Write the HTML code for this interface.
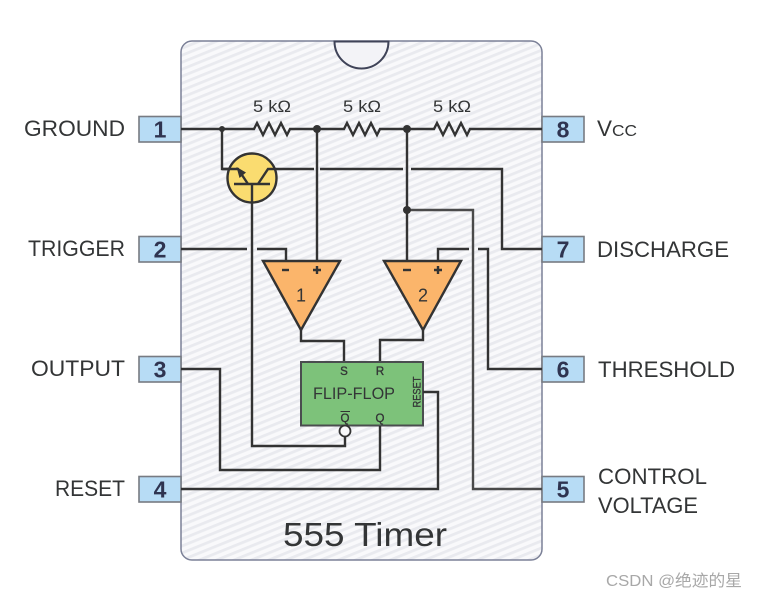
<!DOCTYPE html>
<html>
<head>
<meta charset="utf-8">
<style>
html,body{margin:0;padding:0;background:#fff;width:758px;height:598px;overflow:hidden}
svg{display:block}
text{font-family:"Liberation Sans","Noto Sans CJK SC",sans-serif;fill:#333536}
.lb{font-size:22px}
.pn{font-size:23px;font-weight:bold;fill:#2f3450;text-anchor:middle}
.w{fill:none;stroke:#333;stroke-width:2.4;stroke-linejoin:miter}
.pin{fill:#b7dcf5;stroke:#777b82;stroke-width:1.6}
.ff{font-size:11.5px;text-anchor:middle;stroke:#333536;stroke-width:.35px}
</style>
</head>
<body>
<svg width="758" height="598" viewBox="0 0 758 598" xmlns="http://www.w3.org/2000/svg">
<defs>
<pattern id="h" width="9" height="6.500" patternUnits="userSpaceOnUse" patternTransform="rotate(-22)">
<rect width="9" height="6.500" fill="#f9f9fb"/>
<rect y="1" width="9" height="2.800" fill="#e9eaef"/>
</pattern>
</defs>
<rect x="181" y="41" width="361" height="519" rx="11" ry="11" fill="url(#h)" stroke="#7b8097" stroke-width="1.500"/>
<path d="M334.500 41.500 A27 27 0 0 0 388.500 41.500 Z" fill="#f3f3f7" stroke="#3f4358" stroke-width="2"/>

<g>
<rect class="pin" x="139" y="116.500" width="42" height="25.500"/>
<rect class="pin" x="139" y="236.500" width="42" height="25.500"/>
<rect class="pin" x="139" y="356.500" width="42" height="25.500"/>
<rect class="pin" x="139" y="476.500" width="42" height="25.500"/>
<rect class="pin" x="542" y="116.500" width="42" height="25.500"/>
<rect class="pin" x="542" y="236.500" width="42" height="25.500"/>
<rect class="pin" x="542" y="356.500" width="42" height="25.500"/>
<rect class="pin" x="542" y="476.500" width="42" height="25.500"/>
</g>
<text class="pn" x="160" y="137.500">1</text>
<text class="pn" x="160" y="257.500">2</text>
<text class="pn" x="160" y="377.500">3</text>
<text class="pn" x="160" y="497.500">4</text>
<text class="pn" x="563" y="137.500">8</text>
<text class="pn" x="563" y="257.500">7</text>
<text class="pn" x="563" y="377.500">6</text>
<text class="pn" x="563" y="497.500">5</text>

<text class="lb" x="24" y="136" textLength="101" lengthAdjust="spacingAndGlyphs">GROUND</text>
<text class="lb" x="28" y="256" textLength="97" lengthAdjust="spacingAndGlyphs">TRIGGER</text>
<text class="lb" x="31" y="376" textLength="94" lengthAdjust="spacingAndGlyphs">OUTPUT</text>
<text class="lb" x="55" y="496" textLength="70" lengthAdjust="spacingAndGlyphs">RESET</text>
<text class="lb" x="597" y="136" textLength="15" lengthAdjust="spacingAndGlyphs">V</text>
<text x="612" y="136" font-size="16" textLength="25" lengthAdjust="spacingAndGlyphs">CC</text>
<text class="lb" x="597" y="257" textLength="132" lengthAdjust="spacingAndGlyphs">DISCHARGE</text>
<text class="lb" x="598" y="377" textLength="137" lengthAdjust="spacingAndGlyphs">THRESHOLD</text>
<text class="lb" x="598" y="484" textLength="109" lengthAdjust="spacingAndGlyphs">CONTROL</text>
<text class="lb" x="598" y="513" textLength="100" lengthAdjust="spacingAndGlyphs">VOLTAGE</text>
<text x="283" y="546" font-size="33" textLength="164" lengthAdjust="spacingAndGlyphs">555 Timer</text>

<text x="253" y="112" font-size="17" textLength="38" lengthAdjust="spacingAndGlyphs">5 kΩ</text>
<text x="343" y="112" font-size="17" textLength="38" lengthAdjust="spacingAndGlyphs">5 kΩ</text>
<text x="433" y="112" font-size="17" textLength="38" lengthAdjust="spacingAndGlyphs">5 kΩ</text>

<!-- top rail with resistors -->
<path class="w" d="M181 129H254l3-6 6 12 6-12 6 12 6-12 6 12 3-6H344l3-6 6 12 6-12 6 12 6-12 6 12 3-6H434l3-6 6 12 6-12 6 12 6-12 6 12 3-6H542"/>
<path class="w" d="M222 129V169H238"/>
<path class="w" d="M317 129V261"/>
<path class="w" d="M407 129V261"/>
<path class="w" d="M407 210H473V489H542" style="stroke:#4a4a4a"/>

<!-- transistor -->
<circle cx="252" cy="178" r="24.500" fill="#fadc70" stroke="#333" stroke-width="2.400"/>
<path class="w" d="M222 169H238L248 184"/>
<path class="w" d="M234 184H270"/>
<path class="w" d="M258 184L268 169H314"/>
<path d="M236.500 167L246 172.500L239.500 178Z" fill="#333"/>
<path class="w" d="M320 169H403"/>
<path class="w" d="M411 169H502V249H542"/>
<path class="w" d="M252 184V446H345V437"/>

<!-- pin 2 -->
<path class="w" d="M181 249H247"/>
<path class="w" d="M257 249H286V261"/>
<!-- comparator 2 plus to pin 6 -->
<path class="w" d="M438 261V249H469"/>
<path class="w" d="M478 249H488V369H542"/>

<!-- comparators -->
<path d="M263 261H340L301 330Z" fill="#fbb56b" stroke="#333" stroke-width="2.400" stroke-linejoin="miter"/>
<path d="M384 261H461L423 330Z" fill="#fbb56b" stroke="#333" stroke-width="2.400" stroke-linejoin="miter"/>
<path class="w" d="M282 270H289"/>
<path class="w" d="M313 270H321M317 266V274"/>
<path class="w" d="M403 270H411"/>
<path class="w" d="M434 270H442M438 266V274"/>
<text x="301" y="301.500" font-size="18" text-anchor="middle">1</text>
<text x="423" y="301.500" font-size="18" text-anchor="middle">2</text>

<!-- to flip-flop -->
<path class="w" d="M301 330V341H344V362"/>
<path class="w" d="M423 330V340H380V362"/>

<!-- flip-flop -->
<rect x="301" y="362" width="122" height="63.500" fill="#7dc27a" stroke="#4a4d4f" stroke-width="2"/>
<text class="ff" x="344" y="375">S</text>
<text class="ff" x="380" y="375">R</text>
<text x="313" y="399" font-size="17" textLength="82" lengthAdjust="spacingAndGlyphs">FLIP-FLOP</text>
<text class="ff" x="345" y="422">Q</text>
<path d="M340.500 411.500H350" stroke="#333" stroke-width="1"/>
<text class="ff" x="380" y="422">Q</text>
<text transform="translate(420.500,407.500) rotate(-90)" font-size="11" textLength="31" lengthAdjust="spacingAndGlyphs" style="stroke:#333536;stroke-width:.3px">RESET</text>
<circle cx="345" cy="431" r="5.500" fill="#f8f8fa" stroke="#333" stroke-width="1.800"/>

<path class="w" d="M380 426V470H220V369H181"/>
<path class="w" d="M423 392H438V489H181"/>

<!-- junction dots -->
<circle cx="222" cy="129" r="3" fill="#333"/>
<circle cx="317" cy="129" r="4" fill="#333"/>
<circle cx="407" cy="129" r="4" fill="#333"/>
<circle cx="407" cy="210" r="4" fill="#333"/>

<text x="606" y="586" font-size="16" style="fill:#a8a8a8" textLength="136" lengthAdjust="spacingAndGlyphs">CSDN @绝迹的星</text>
</svg>
</body>
</html>
